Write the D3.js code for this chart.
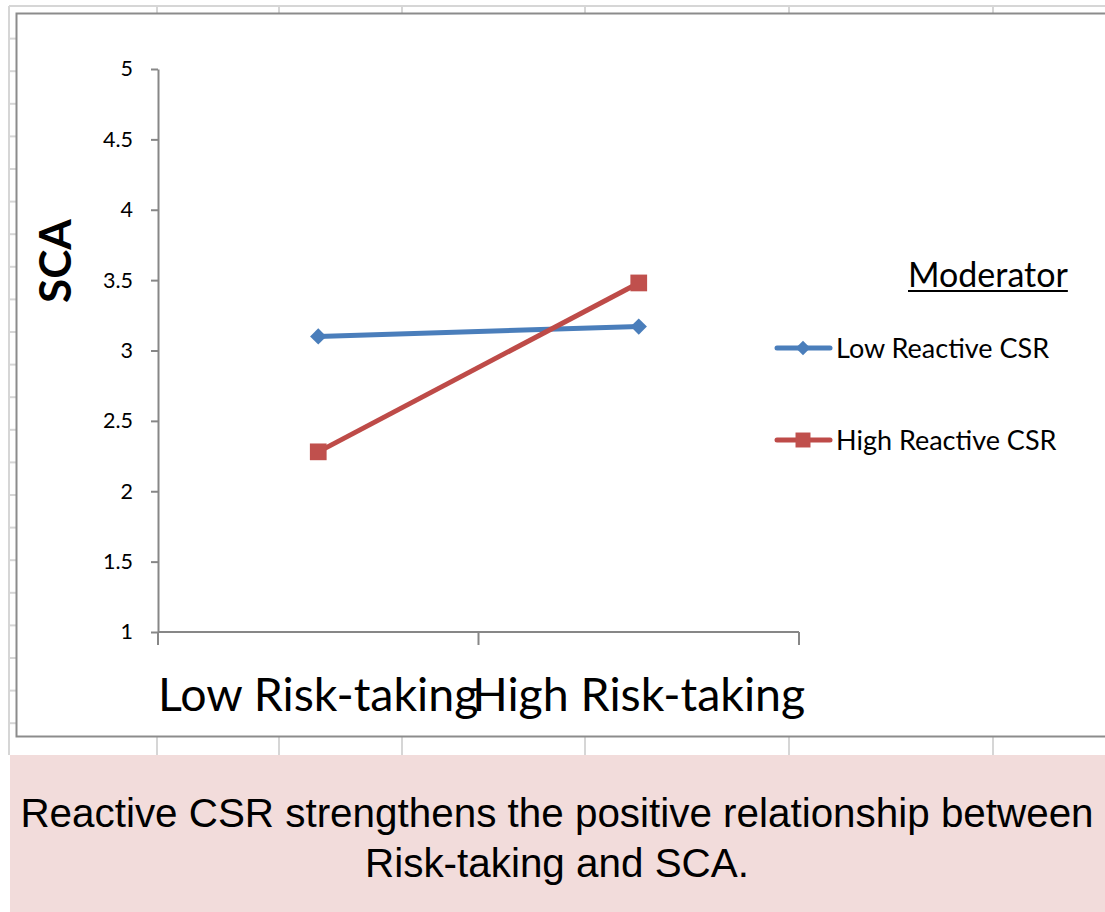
<!DOCTYPE html>
<html>
<head>
<meta charset="utf-8">
<script src="https://cdn.jsdelivr.net/npm/d3@7/dist/d3.min.js"></script>
<style>
  html, body { margin: 0; padding: 0; background: #ffffff; }
  svg { display: block; }
</style>
</head>
<body>
<svg id="chart" width="1105" height="912"></svg>
<script>
// Simple-slopes data: SCA at low / high risk-taking for two levels of reactive CSR
const categories = ["Low Risk-taking", "High Risk-taking"];
const lowReactiveCSR = [3.10, 3.17];
const highReactiveCSR = [2.28, 3.48];
const seriesNames = ["Low Reactive CSR", "High Reactive CSR"];
const yTicks = [1, 1.5, 2, 2.5, 3, 3.5, 4, 4.5, 5];
const yTitle = "SCA";
const legendTitle = "Moderator";
const captionLines = [
  "Reactive CSR strengthens the positive relationship between",
  "Risk-taking and SCA."
];

const svg = d3.select("#chart");
const W = 1105, H = 912;
const uiFont = "Lato, 'Open Sans', sans-serif";

// --- worksheet cell grid behind the chart object ---
const grid = svg.append("g").attr("stroke", "#d6d6d6").attr("stroke-width", 2);
const colLines = [157, 279, 402, 585, 789, 993];
grid.append("line").attr("x1", 9).attr("x2", W).attr("y1", 6).attr("y2", 6);
grid.append("line").attr("x1", 9).attr("x2", 9).attr("y1", 6).attr("y2", 755);
colLines.forEach(cx => {
  grid.append("line").attr("x1", cx).attr("x2", cx).attr("y1", 6).attr("y2", 14);
  grid.append("line").attr("x1", cx).attr("x2", cx).attr("y1", 737).attr("y2", 755);
});
d3.range(6, 755, 32.6).forEach(ry => {
  grid.append("line").attr("x1", 9).attr("x2", 16).attr("y1", ry).attr("y2", ry);
});

// --- chart area frame ---
svg.append("rect")
  .attr("x", 16.5).attr("y", 13.5)
  .attr("width", W + 10).attr("height", 723)
  .attr("fill", "#ffffff")
  .attr("stroke", "#8c8c8c").attr("stroke-width", 2);

// --- scales ---
const plotLeft = 158, plotRight = 799, plotTop = 69, plotBottom = 632;
const x = d3.scaleBand().domain(categories).range([plotLeft, plotRight]);
const xc = c => x(c) + x.bandwidth() / 2;
const y = d3.scaleLinear().domain([1, 5]).range([plotBottom, plotTop]);

const axisColor = "#878787";

// y axis
const yAxis = svg.append("g")
  .attr("transform", `translate(${plotLeft},0)`)
  .call(d3.axisLeft(y).tickValues(yTicks).tickFormat(d3.format("")).tickSize(7).tickSizeOuter(0).tickPadding(18));
yAxis.select(".domain").attr("stroke", axisColor).attr("stroke-width", 2);
yAxis.selectAll(".tick line").attr("stroke", axisColor).attr("stroke-width", 2);
yAxis.selectAll(".tick text")
  .attr("fill", "#000").style("font-family", uiFont).style("font-size", "21.5px");

// x axis: line, tick marks on band boundaries, labels at band centres
const xAxis = svg.append("g");
xAxis.append("line")
  .attr("x1", plotLeft).attr("x2", plotRight)
  .attr("y1", plotBottom).attr("y2", plotBottom)
  .attr("stroke", axisColor).attr("stroke-width", 2);
const boundaries = categories.map(c => x(c)).concat([x.range()[1]]);
xAxis.selectAll("line.tk").data(boundaries).join("line")
  .attr("class", "tk")
  .attr("x1", d => d).attr("x2", d => d)
  .attr("y1", plotBottom).attr("y2", plotBottom + 13)
  .attr("stroke", axisColor).attr("stroke-width", 2);
xAxis.selectAll("text").data(categories).join("text")
  .attr("x", d => xc(d)).attr("y", 711)
  .attr("text-anchor", "middle")
  .style("font-family", uiFont).style("font-size", "46.5px")
  .attr("fill", "#000")
  .text(d => d);

// y axis title
svg.append("text")
  .attr("transform", "translate(71,261) rotate(-90)")
  .attr("text-anchor", "middle")
  .style("font-family", uiFont).style("font-size", "44px").style("font-weight", "bold")
  .attr("fill", "#000")
  .text(yTitle);

// --- series ---
const series = [
  { name: seriesNames[0], values: lowReactiveCSR, color: "#4a7ebb", marker: d3.symbolDiamond2, markerColor: "#4a7ebb", size: 170 },
  { name: seriesNames[1], values: highReactiveCSR, color: "#be4b48", marker: d3.symbolSquare, markerColor: "#c0504d", size: 280 }
];

const line = d3.line().x(d => xc(d.cat)).y(d => y(d.v));

series.forEach(s => {
  const pts = categories.map((c, i) => ({ cat: c, v: s.values[i] }));
  svg.append("path")
    .datum(pts)
    .attr("d", line)
    .attr("fill", "none")
    .attr("stroke", s.color)
    .attr("stroke-width", 5);
  svg.selectAll(null).data(pts).join("path")
    .attr("transform", d => `translate(${xc(d.cat)},${y(d.v)})`)
    .attr("d", d3.symbol().type(s.marker).size(s.size))
    .attr("fill", s.markerColor);
});

// --- legend ---
const legend = svg.append("g");
const titleText = legend.append("text")
  .attr("x", 908).attr("y", 287)
  .style("font-family", uiFont).style("font-size", "34px")
  .attr("fill", "#000")
  .text(legendTitle);
const tw = titleText.node().getComputedTextLength();
legend.append("line")
  .attr("x1", 908).attr("x2", 908 + tw)
  .attr("y1", 291).attr("y2", 291)
  .attr("stroke", "#000").attr("stroke-width", 2);

const legendRows = [348, 440];
series.forEach((s, i) => {
  const ly = legendRows[i];
  legend.append("line")
    .attr("x1", 777).attr("x2", 830)
    .attr("y1", ly).attr("y2", ly)
    .attr("stroke", s.color).attr("stroke-width", 5)
    .attr("stroke-linecap", "round");
  legend.append("path")
    .attr("transform", `translate(803,${ly})`)
    .attr("d", d3.symbol().type(s.marker).size(s.size * 0.8))
    .attr("fill", s.markerColor);
  legend.append("text")
    .attr("x", 836).attr("y", ly + 10)
    .style("font-family", uiFont).style("font-size", "27px")
    .attr("fill", "#000")
    .text(s.name);
});

// --- caption box ---
svg.append("rect")
  .attr("x", 10).attr("y", 755)
  .attr("width", W - 10).attr("height", H - 755)
  .attr("fill", "#f2dcdb");
svg.selectAll("text.caption").data(captionLines).join("text")
  .attr("class", "caption")
  .attr("x", 557).attr("y", (d, i) => 827 + i * 50)
  .attr("text-anchor", "middle")
  .style("font-family", "'Liberation Sans', Arial, sans-serif").style("font-size", "40.4px")
  .attr("fill", "#000")
  .text(d => d);
</script>
</body>
</html>
